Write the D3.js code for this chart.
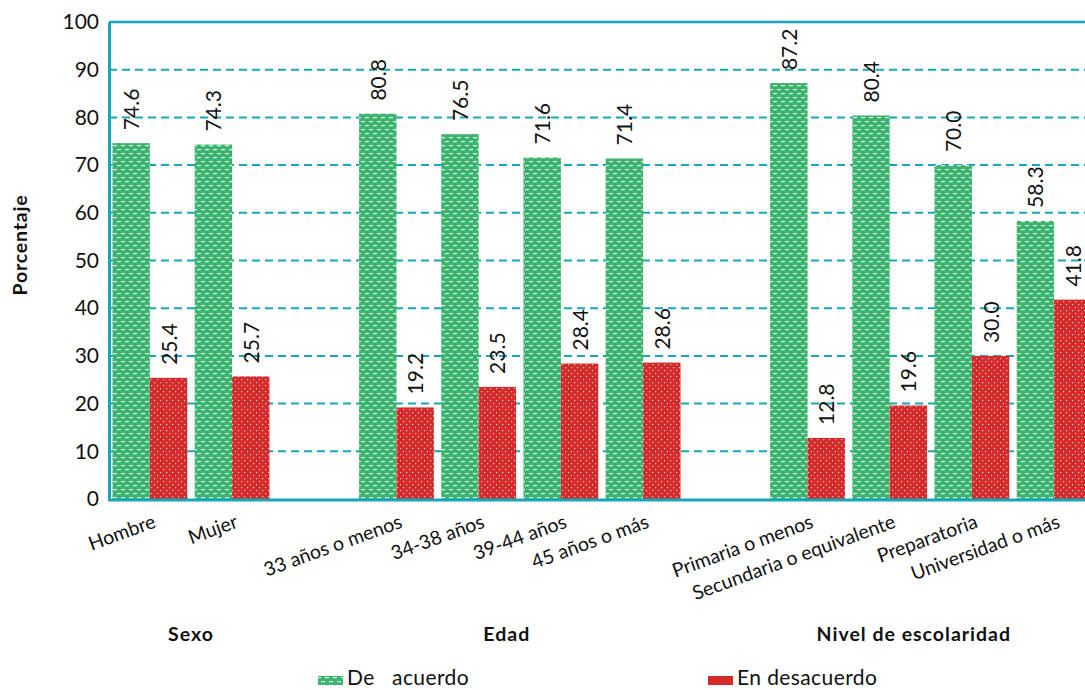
<!DOCTYPE html>
<html>
<head>
<meta charset="utf-8">
<script src="https://cdn.jsdelivr.net/npm/d3@7"></script>
<style>
  html, body { margin: 0; padding: 0; background: #fff; }
  svg { display: block; font-family: Lato, "Open Sans", sans-serif; }
</style>
</head>
<body>
<svg id="chart" width="1085" height="690"></svg>
<script>
// Survey answers by respondent profile (percent)
const slots = ["Hombre", "Mujer", "gap1", "33 años o menos", "34-38 años", "39-44 años", "45 años o más",
  "gap2", "Primaria o menos", "Secundaria o equivalente", "Preparatoria", "Universidad o más"];
const categories = ["Hombre", "Mujer", "33 años o menos", "34-38 años", "39-44 años", "45 años o más",
  "Primaria o menos", "Secundaria o equivalente", "Preparatoria", "Universidad o más"];
const deAcuerdo    = [74.6, 74.3, 80.8, 76.5, 71.6, 71.4, 87.2, 80.4, 70.0, 58.3];
const enDesacuerdo = [25.4, 25.7, 19.2, 23.5, 28.4, 28.6, 12.8, 19.6, 30.0, 41.8];
const seriesNames = ["De   acuerdo", "En desacuerdo"];
const groups = [
  { name: "Sexo", from: "Hombre", to: "Mujer", shift: 0 },
  { name: "Edad", from: "33 años o menos", to: "45 años o más", shift: -13 },
  { name: "Nivel de escolaridad", from: "Primaria o menos", to: "Universidad o más", shift: -17 }
];
const yTicks = [0, 10, 20, 30, 40, 50, 60, 70, 80, 90, 100];

const svg = d3.select("#chart");
const teal = "#16a8ba";
const green = "#3bb56e";
const red = "#d42a2a";

// fill patterns: dashed white rows on green, white dots on red
const defs = svg.append("defs");
const pg = defs.append("pattern").attr("id", "patGreen").attr("patternUnits", "userSpaceOnUse")
  .attr("width", 8).attr("height", 8);
pg.append("rect").attr("width", 8).attr("height", 8).attr("fill", green);
pg.append("rect").attr("x", 1).attr("y", 1).attr("width", 4).attr("height", 1.2).attr("fill", "#e8f7ee");
pg.append("rect").attr("x", 5).attr("y", 5).attr("width", 4).attr("height", 1.2).attr("fill", "#e8f7ee");
pg.append("rect").attr("x", -3).attr("y", 5).attr("width", 4).attr("height", 1.2).attr("fill", "#e8f7ee");
const pr = defs.append("pattern").attr("id", "patRed").attr("patternUnits", "userSpaceOnUse")
  .attr("width", 6).attr("height", 6);
pr.append("rect").attr("width", 6).attr("height", 6).attr("fill", red);
pr.append("rect").attr("x", 1).attr("y", 1).attr("width", 1.2).attr("height", 1.2).attr("fill", "#f4c9c9");
pr.append("rect").attr("x", 4).attr("y", 4).attr("width", 1.2).attr("height", 1.2).attr("fill", "#f4c9c9");

const plotLeft = 109, plotTop = 22, plotBottom = 499, plotRight = 1085;

const x = d3.scaleBand().domain(slots).range([110, 1094]).paddingInner(0.09).paddingOuter(0.03);
const xs = d3.scaleBand().domain([0, 1]).range([0, x.bandwidth()]);
const y = d3.scaleLinear().domain([0, 100]).range([plotBottom, plotTop]);

// dashed gridlines
svg.append("g").selectAll("line").data(yTicks.filter(t => t > 0 && t < 100)).join("line")
  .attr("x1", plotLeft).attr("x2", plotRight)
  .attr("y1", d => y(d)).attr("y2", d => y(d))
  .attr("stroke", teal).attr("stroke-width", 2).attr("stroke-dasharray", "8,5");

// bars with value labels
const rows = categories.map((c, i) => ({ c, v: [deAcuerdo[i], enDesacuerdo[i]] }));
const barG = svg.append("g");
rows.forEach(r => {
  r.v.forEach((v, k) => {
    barG.append("rect")
      .attr("x", x(r.c) + xs(k))
      .attr("width", xs.bandwidth())
      .attr("y", y(v))
      .attr("height", y(0) - y(v))
      .attr("fill", k === 0 ? "url(#patGreen)" : "url(#patRed)");
    const cx = x(r.c) + xs(k) + xs.bandwidth() / 2;
    barG.append("text")
      .attr("transform", `translate(${cx + 8},${y(v) - 13}) rotate(-90)`)
      .attr("font-size", 21).attr("fill", "#111")
      .text(v.toFixed(1));
  });
});

// frame: top line, left axis, bottom axis
svg.append("line").attr("x1", plotLeft).attr("x2", plotRight).attr("y1", y(100)).attr("y2", y(100))
  .attr("stroke", teal).attr("stroke-width", 2.5);
const yAxis = svg.append("g").attr("transform", `translate(${plotLeft},0)`)
  .call(d3.axisLeft(y).tickValues(yTicks).tickSize(0).tickPadding(10));
yAxis.select(".domain").attr("stroke", teal).attr("stroke-width", 3);
yAxis.selectAll("text").attr("font-size", 21).attr("fill", "#111").attr("font-family", "Lato, sans-serif");
svg.append("line").attr("x1", plotLeft - 1).attr("x2", plotRight).attr("y1", plotBottom + 1).attr("y2", plotBottom + 1)
  .attr("stroke", teal).attr("stroke-width", 3);

// category labels
svg.append("g").selectAll("text").data(categories).join("text")
  .attr("transform", d => `translate(${x(d) + x.bandwidth() / 2 + 7},${plotBottom + 28}) rotate(-20)`)
  .attr("text-anchor", "end").attr("font-size", 19.5).attr("fill", "#111")
  .text(d => d);

// group labels
svg.append("g").selectAll("text").data(groups).join("text")
  .attr("x", d => (x(d.from) + x(d.to) + x.bandwidth()) / 2 + d.shift)
  .attr("y", 641).attr("text-anchor", "middle")
  .attr("font-size", 19.5).attr("font-weight", "bold").attr("letter-spacing", 1).attr("fill", "#111")
  .text(d => d.name);

// y axis title
svg.append("text").attr("transform", "translate(27,245) rotate(-90)")
  .attr("text-anchor", "middle").attr("font-size", 19.5).attr("font-weight", "bold")
  .attr("letter-spacing", 0.8).attr("fill", "#111")
  .text("Porcentaje");

// legend
const legendX = [318, 708];
seriesNames.forEach((n, k) => {
  svg.append("rect").attr("x", legendX[k]).attr("y", 676).attr("width", 25).attr("height", 9)
    .attr("fill", k === 0 ? "url(#patGreen)" : red);
  svg.append("text").attr("x", legendX[k] + 29).attr("y", 685)
    .attr("font-size", 21).attr("letter-spacing", 0.4).attr("fill", "#111").style("white-space", "pre")
    .text(n);
});
</script>
</body>
</html>
